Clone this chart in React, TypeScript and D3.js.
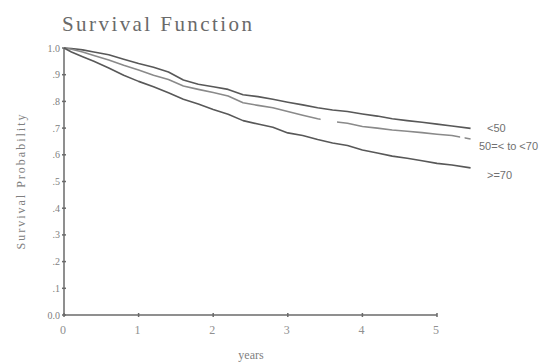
import React from "react";
import * as d3 from "d3";

const years = [0, 0.1, 0.25, 0.4, 0.6, 0.8, 1.0, 1.2, 1.4, 1.6, 1.8, 2.0, 2.2, 2.4, 2.6, 2.8, 3.0, 3.2, 3.4, 3.6, 3.8, 4.0, 4.2, 4.4, 4.6, 4.8, 5.0, 5.2, 5.45];
const under50 = [1.0, 0.998, 0.993, 0.985, 0.975, 0.958, 0.942, 0.928, 0.91, 0.88, 0.864, 0.855, 0.845, 0.825, 0.818, 0.808, 0.797, 0.787, 0.776, 0.768, 0.762, 0.753, 0.745, 0.735, 0.728, 0.722, 0.715, 0.708, 0.699];
const from50to70 = [1.0, 0.995, 0.985, 0.972, 0.955, 0.935, 0.918, 0.898, 0.882, 0.858, 0.845, 0.833, 0.82, 0.795, 0.785, 0.776, 0.762, 0.748, 0.735, 0.725, 0.718, 0.706, 0.7, 0.693, 0.688, 0.683, 0.677, 0.672, 0.659];
const over70 = [1.0, 0.985, 0.967, 0.95, 0.925, 0.898, 0.875, 0.855, 0.832, 0.808, 0.79, 0.77, 0.752, 0.728, 0.715, 0.703, 0.682, 0.672, 0.657, 0.644, 0.635, 0.618, 0.607, 0.595, 0.587, 0.578, 0.568, 0.562, 0.551];
const seriesNames = ["<50", "50=< to <70", ">=70"];
const middleGaps = [[3.44, 3.66], [5.31, 5.37]];
const xTicks = [0, 1, 2, 3, 4, 5];
const yTicks = [0, 0.1, 0.2, 0.3, 0.4, 0.5, 0.6, 0.7, 0.8, 0.9, 1.0];
const yTickLabels = ["0.0", ".1", ".2", ".3", ".4", ".5", ".6", ".7", ".8", ".9", "1.0"];

export default function App() {
  const W = 549, H = 363;
  const x = d3.scaleLinear().domain([0, 5]).range([64, 437]);
  const y = d3.scaleLinear().domain([0, 1]).range([315, 48]);
  const line = d3.line<[number, number]>().x(d => x(d[0])).y(d => y(d[1])).curve(d3.curveLinear);
  const series = [under50, from50to70, over70];
  const colors = ["#585858", "#8a8a8a", "#585858"];
  const labelPos = [
    { dx: 487, v: 0.70 },
    { dx: 479, v: 0.632 },
    { dx: 487, v: 0.522 },
  ];
  const gray = "#6a6a6a";
  return (
    <svg width={W} height={H} style={{ position: "absolute", left: 0, top: 0, background: "#fff" }}>
      <defs>
        <mask id="gapMask">
          <rect x={0} y={0} width={W} height={H} fill="#fff" />
          {middleGaps.map((g, i) => (
            <rect key={i} x={x(g[0])} y={0} width={x(g[1]) - x(g[0])} height={H} fill="#000" />
          ))}
        </mask>
      </defs>
      <text x={62} y={31} fontFamily="Liberation Serif, serif" fontSize={21} fill={gray} textLength={190} lengthAdjust="spacing">Survival Function</text>
      <line x1={x(0)} x2={x(0)} y1={y(1)} y2={y(0)} stroke={gray} strokeWidth={1.5} />
      <line x1={x(0)} x2={x(5)} y1={y(0)} y2={y(0)} stroke={gray} strokeWidth={1.5} />
      {yTicks.map((t, i) => (
        <g key={"y" + i}>
          <line x1={x(0) - 2} x2={x(0) + 2} y1={y(t)} y2={y(t)} stroke={gray} strokeWidth={1.5} />
          <text x={x(0) - 4} y={y(t)} dy="0.35em" textAnchor="end" fontFamily="Liberation Serif, serif" fontSize={10} fill="#808080">{yTickLabels[i]}</text>
        </g>
      ))}
      {xTicks.map((t, i) => (
        <g key={"x" + i}>
          <line x1={x(t)} x2={x(t)} y1={y(0) - 2} y2={y(0) + 2} stroke={gray} strokeWidth={1.5} />
          <text x={x(t) - 1} y={y(0) + 19} textAnchor="middle" fontFamily="Liberation Serif, serif" fontSize={12} fill="#909090">{String(t)}</text>
        </g>
      ))}
      <text transform={`translate(25,${182}) rotate(-90)`} textAnchor="middle" fontFamily="Liberation Serif, serif" fontSize={12} fill="#808080" textLength={135} lengthAdjust="spacing">Survival Probability</text>
      <text x={251} y={359} textAnchor="middle" fontFamily="Liberation Serif, serif" fontSize={12} fill="#808080">years</text>
      {series.map((s, i) => (
        <path key={"s" + i} d={line(years.map((t, j) => [t, s[j]] as [number, number])) || ""} fill="none" stroke={colors[i]} strokeWidth={1.6} strokeLinejoin="round" mask={i === 1 ? "url(#gapMask)" : undefined} />
      ))}
      {seriesNames.map((n, i) => (
        <text key={"l" + i} x={labelPos[i].dx} y={y(labelPos[i].v)} dy="0.35em" fontFamily="Liberation Sans, Arial, sans-serif" fontSize={11} fill="#707070">{n}</text>
      ))}
    </svg>
  );
}
